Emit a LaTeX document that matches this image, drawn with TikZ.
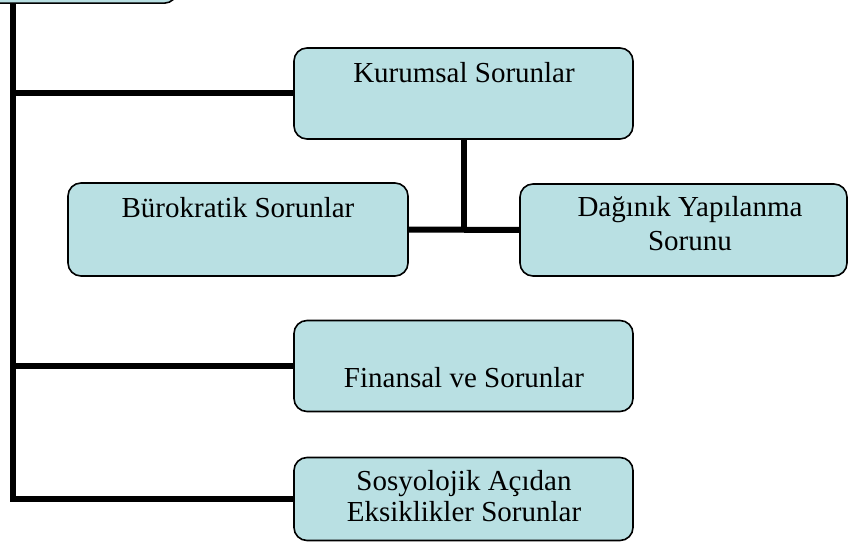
\documentclass[tikz,border=0pt]{standalone}
\usepackage{fontspec}
\setmainfont{Liberation Serif}
\definecolor{boxfill}{RGB}{185,224,227}
\pgfdeclarelayer{background}
\pgfsetlayers{background,main}
\tikzset{
  box/.style={draw=black, line width=1.6pt, fill=boxfill, rounded corners=13pt, inner sep=0pt},
  conn/.style={draw=black, line width=6pt, line join=miter, line cap=rect},
  lbl/.style={anchor=base, inner sep=0pt, font=\fontsize{29}{34}\selectfont}
}
\begin{document}
\begin{tikzpicture}[x=1pt,y=-1pt]
\useasboundingbox (0,0) rectangle (849,548);
\clip (0,0) rectangle (849,548);
\coordinate (trunk) at (12.5,0);
% boxes
\node[box, minimum width=220pt, minimum height=70pt, anchor=south east] (top) at (178,4) {};
\node[box, minimum width=339pt, minimum height=91pt] (kur) at (463.5,93.5) {};
\node[box, minimum width=340pt, minimum height=93pt] (bur) at (238,229.5) {};
\node[box, minimum width=327pt, minimum height=92pt] (dag) at (683.5,230) {};
\node[box, minimum width=339pt, minimum height=91pt] (fin) at (463.5,366) {};
\node[box, minimum width=339pt, minimum height=83pt] (soc) at (463.5,499) {};
% connectors behind the boxes
\begin{pgfonlayer}{background}
\draw[conn] (top.south -| trunk) |- (soc.west);
\draw[conn] (trunk |- kur.west) -- (kur.west);
\draw[conn] (trunk |- fin.west) -- (fin.west);
\draw[conn] (kur.south) -- (kur.south |- bur.east);
\draw[conn] (bur.east) -- (dag.west);
\end{pgfonlayer}
% texts
\node[lbl] (tkur) at (464,83) {Kurumsal Sorunlar};
\node[lbl] (tbur) at (238,218) {Bürokratik Sorunlar};
\node[lbl] (tdag1) at (690,217) {Dağınık Yapılanma};
\node[lbl] (tdag2) at (690,251) {Sorunu};
\node[lbl] (tfin) at (464,387) {Finansal ve Sorunlar};
\node[lbl] (tsoc1) at (464,490) {Sosyolojik Açıdan};
\node[lbl] (tsoc2) at (464,521) {Eksiklikler Sorunlar};
\end{tikzpicture}
\end{document}
